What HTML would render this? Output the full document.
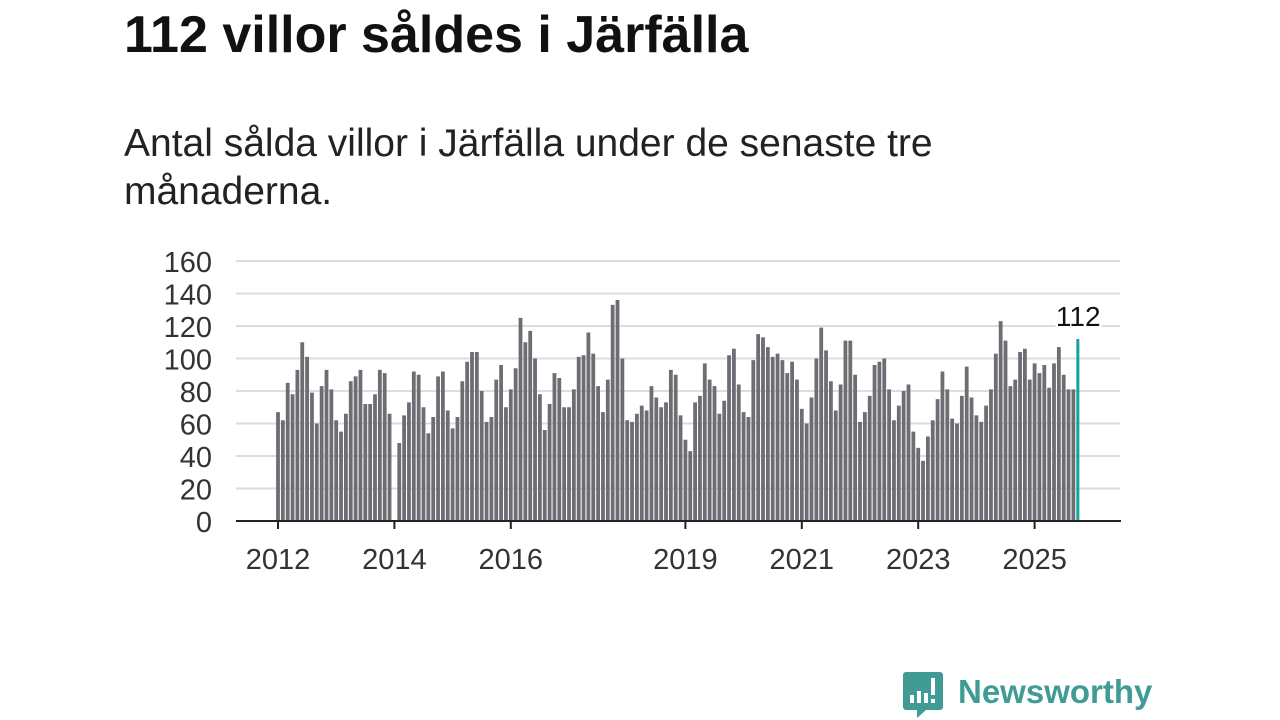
<!DOCTYPE html>
<html><head><meta charset="utf-8">
<style>
body{margin:0;width:1280px;height:720px;background:#fff;overflow:hidden;font-family:"Liberation Sans",sans-serif;position:relative}
h1{position:absolute;left:124px;top:9px;margin:0;font-size:52px;line-height:52px;font-weight:bold;color:#111}
.sub{position:absolute;left:124px;top:120px;margin:0;font-size:39px;line-height:48px;color:#222;width:860px}
svg{position:absolute;left:0;top:0}
</style></head><body>
<h1>112 villor såldes i Järfälla</h1>
<p class="sub">Antal sålda villor i Järfälla under de senaste tre månaderna.</p>
<svg id="chart" width="1280" height="720"></svg>
<svg width="1280" height="720" style="pointer-events:none">
<path d="M906 672 h34 a3 3 0 0 1 3 3 v32 a3 3 0 0 1 -3 3 h-14 l-9 8 v-8 h-11 a3 3 0 0 1 -3 -3 v-32 a3 3 0 0 1 3 -3z" fill="#3f9b93"/>
<rect x="910" y="695" width="4" height="8" fill="#fff"/><rect x="917" y="691" width="4" height="12" fill="#fff"/><rect x="924" y="693" width="4" height="10" fill="#fff"/><rect x="931" y="678" width="4" height="17" fill="#fff"/><rect x="931" y="699" width="4" height="4" fill="#fff"/>
<text x="958" y="703" font-size="33" font-weight="bold" fill="#3f9b93" font-family="Liberation Sans, sans-serif">Newsworthy</text>
</svg>
<script>
const yTicks=[0,20,40,60,80,100,120,140,160];
const xLabels=["2012","2014","2016","2019","2021","2023","2025"];
const xLabelYears=[2012,2014,2016,2019,2021,2023,2025];
const startYear=2012;
const values=[
67,62,85,78,93,110,101,79,60,83,93,81,
62,55,66,86,89,93,72,72,78,93,91,66,
null,48,65,73,92,90,70,54,64,89,92,68,
57,64,86,98,104,104,80,61,64,87,96,70,
81,94,125,110,117,100,78,56,72,91,88,70,
70,81,101,102,116,103,83,67,87,133,136,100,
62,61,66,71,68,83,76,70,73,93,90,65,
50,43,73,77,97,87,83,66,74,102,106,84,
67,64,99,115,113,107,101,103,99,91,98,87,
69,60,76,100,119,105,86,68,84,111,111,90,
61,67,77,96,98,100,81,62,71,80,84,55,
45,37,52,62,75,92,81,63,60,77,95,76,
65,61,71,81,103,123,111,83,87,104,106,87,
97,91,96,82,97,107,90,81,81,112];
const svg=document.getElementById('chart');
const NS='http://www.w3.org/2000/svg';
const x=i=>278+i*58.2/12;
const y=v=>521-v*1.625;
function mk(t,a){const e=document.createElementNS(NS,t);for(const k in a)e.setAttribute(k,a[k]);svg.appendChild(e);return e;}
yTicks.forEach(t=>{
 const g=mk('line',{x1:236,x2:1120,y1:y(t),y2:y(t),stroke:'#ddd','stroke-width':2});
 
 
 const l=mk('text',{x:212,y:y(t)+11,'text-anchor':'end','font-size':29,fill:'#333'});
 l.textContent=t;
 
 
});
values.forEach((v,i)=>{
 if(v==null)return;
 const last=i===values.length-1;
 const r=mk('rect',{x:x(i)-1.9,y:y(v),width:last?3:3.8,height:v*1.625,fill:last?'#13a39a':'#6e6d73'});
 
 
});
const ax=mk('line',{x1:236,x2:1121,y1:521,y2:521,stroke:'#222','stroke-width':2});


xLabelYears.forEach((yr,k)=>{
 const xi=x((yr-startYear)*12);
 const t=mk('line',{x1:xi,x2:xi,y1:521,y2:529,stroke:'#222','stroke-width':2});
 
 
 const l=mk('text',{x:xi,y:569,'text-anchor':'middle','font-size':29,fill:'#333'});
 l.textContent=xLabels[k];
 
 
});
const li=values.length-1;
const lab=mk('text',{x:x(li),y:y(values[li])-13,'text-anchor':'middle','font-size':28,fill:'#111',stroke:'#fff','stroke-width':5,'paint-order':'stroke'});
lab.textContent=values[li];


</script>
</body></html>
